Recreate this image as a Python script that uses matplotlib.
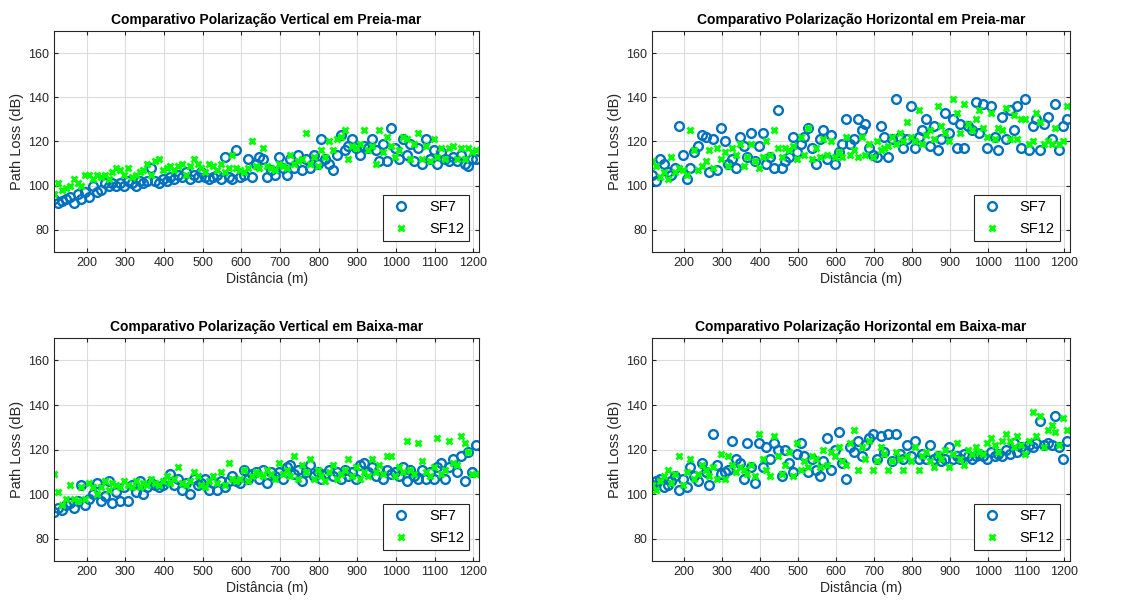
import matplotlib
matplotlib.use("Agg")

import matplotlib.pyplot as plt

plt.rcParams.update({
    "font.family": ["Liberation Sans", "DejaVu Sans"],
    "font.size": 9,
    "axes.linewidth": 0.8,
    "axes.edgecolor": "#262626",
    "xtick.color": "#262626",
    "ytick.color": "#262626",
    "xtick.direction": "in",
    "ytick.direction": "in",
    "xtick.top": True,
    "ytick.right": True,
    "xtick.major.size": 3,
    "ytick.major.size": 3,
})

# ===================== data =====================
distancia = [
    117, 127, 137, 147, 157, 167, 177, 187, 197,
    207, 217, 227, 237, 247, 257, 267, 277, 287, 297,
    307, 317, 327, 337, 347, 357, 367, 377, 387, 397,
    407, 417, 427, 437, 447, 457, 467, 477, 487, 497,
    507, 517, 527, 537, 547, 557, 567, 577, 587, 597,
    607, 617, 627, 637, 647, 657, 667, 677, 687, 697,
    707, 717, 727, 737, 747, 757, 767, 777, 787, 797,
    807, 817, 827, 837, 847, 857, 867, 877, 887, 897,
    907, 917, 927, 937, 947, 957, 967, 977, 987, 997,
    1007, 1017, 1027, 1037, 1047, 1057, 1067, 1077, 1087, 1097,
    1107, 1117, 1127, 1137, 1147, 1157, 1167, 1177, 1187, 1197,
    1207,
]

# Vertical, preia-mar
v_preia_sf7 = [
    94, 92, 93, 94, 95, 92, 96, 94, 97,
    95, 100, 97, 98, 101, 100, 101, 100, 101, 100,
    102, 101, 100, 102, 101, 102, 108, 102, 101, 103,
    102, 104, 103, 105, 104, 106, 103, 105, 104, 106,
    104, 103, 104, 105, 103, 113, 104, 103, 116, 104,
    105, 112, 104, 110, 113, 112, 104, 107, 105, 113,
    108, 105, 112, 108, 114, 107, 112, 108, 114, 110,
    121, 112, 110, 107, 114, 123, 116, 118, 121, 117,
    114, 118, 117, 121, 116, 111, 119, 111, 126, 117,
    112, 121, 114, 119, 111, 117, 110, 121, 112, 116,
    110, 115, 112, 111, 113, 111, 114, 110, 109, 112,
    112,
]
v_preia_sf12 = [
    96, 101, 98, 99, 100, 103, 101, 100, 105,
    105, 103, 105, 104, 105, 103, 106, 108, 107, 105,
    108, 104, 105, 106, 107, 110, 105, 111, 112, 107,
    108, 109, 107, 109, 110, 105, 109, 112, 110, 108,
    106, 110, 109, 107, 110, 106, 108, 114, 108, 107,
    106, 108, 120, 109, 108, 117, 109, 108, 107, 110,
    109, 108, 114, 110, 111, 112, 124, 110, 113, 109,
    116, 113, 120, 116, 121, 122, 125, 112, 118, 117,
    119, 125, 116, 118, 110, 125, 115, 122, 118, 113,
    116, 122, 121, 112, 119, 124, 112, 118, 111, 121,
    113, 117, 112, 117, 118, 112, 117, 112, 117, 115,
    116,
]

# Horizontal, preia-mar
h_preia_sf7 = [
    105, 102, 112, 110, 106, 105, 108, 127, 114,
    103, 108, 115, 118, 123, 122, 106, 121, 107, 126,
    120, 110, 112, 108, 122, 118, 113, 124, 111, 118,
    124, 110, 113, 108, 134, 108, 111, 113, 122, 115,
    119, 122, 126, 117, 110, 121, 125, 112, 123, 110,
    115, 119, 130, 119, 121, 130, 125, 128, 117, 114,
    113, 127, 122, 113, 121, 139, 122, 117, 121, 136,
    117, 122, 125, 130, 118, 127, 116, 121, 133, 124,
    130, 117, 128, 117, 127, 125, 138, 124, 137, 117,
    136, 122, 116, 131, 121, 134, 125, 136, 117, 139,
    116, 127, 130, 116, 128, 131, 121, 137, 116, 127,
    130,
]
h_preia_sf12 = [
    111, 109, 104, 106, 103, 113, 106, 108, 107,
    105, 125, 116, 107, 109, 111, 116, 108, 117, 112,
    115, 109, 117, 114, 119, 109, 113, 119, 111, 108,
    113, 120, 114, 125, 117, 113, 117, 116, 118, 112,
    122, 114, 126, 112, 117, 113, 121, 114, 120, 113,
    115, 113, 122, 114, 116, 113, 122, 114, 119, 113,
    120, 116, 117, 118, 122, 119, 124, 120, 129, 122,
    120, 134, 119, 123, 125, 121, 136, 127, 124, 120,
    139, 133, 124, 137, 128, 125, 130, 134, 126, 122,
    133, 121, 126, 125, 135, 121, 132, 121, 130, 130,
    119, 120, 133, 129, 119, 120, 119, 126, 119, 120,
    136,
]

# Vertical, baixa-mar
v_baixa_sf7 = [
    92, 94, 93, 95, 96, 94, 97, 104, 95,
    98, 100, 105, 97, 99, 106, 96, 101, 97, 103,
    97, 104, 101, 106, 100, 103, 105, 104, 103, 104,
    106, 109, 104, 107, 102, 105, 100, 107, 104, 105,
    107, 102, 105, 102, 106, 103, 106, 108, 106, 105,
    111, 107, 109, 110, 107, 111, 105, 110, 108, 110,
    107, 112, 113, 109, 111, 106, 110, 113, 108, 110,
    107, 109, 111, 108, 110, 107, 111, 108, 110, 107,
    113, 114, 110, 112, 108, 111, 107, 111, 109, 110,
    108, 112, 106, 111, 108, 107, 111, 107, 110, 107,
    112, 114, 107, 112, 116, 110, 117, 106, 119, 110,
    122,
]
v_baixa_sf12 = [
    109, 101, 95, 98, 104, 98, 97, 103, 98,
    105, 103, 100, 103, 106, 102, 105, 104, 103, 106,
    104, 103, 106, 103, 105, 104, 107, 105, 104, 106,
    108, 105, 107, 112, 105, 104, 106, 110, 108, 104,
    103, 106, 108, 105, 110, 104, 114, 107, 106, 107,
    111, 106, 108, 110, 109, 108, 111, 109, 107, 114,
    109, 111, 108, 117, 107, 113, 110, 116, 107, 111,
    108, 106, 110, 113, 107, 109, 111, 116, 108, 112,
    107, 110, 108, 116, 110, 113, 109, 117, 117, 108,
    112, 110, 124, 111, 109, 123, 115, 110, 108, 112,
    125, 109, 111, 124, 114, 113, 126, 123, 119, 109,
    109,
]

# Horizontal, baixa-mar
h_baixa_sf7 = [
    104, 106, 107, 103, 104, 106, 108, 102, 107,
    103, 112, 108, 106, 114, 110, 104, 127, 113, 109,
    110, 111, 124, 116, 114, 107, 123, 112, 105, 123,
    112, 121, 116, 123, 120, 108, 120, 114, 110, 118,
    123, 117, 110, 116, 111, 108, 115, 125, 111, 120,
    128, 114, 107, 121, 119, 124, 117, 122, 125, 127,
    116, 126, 119, 127, 115, 127, 118, 116, 122, 117,
    124, 116, 118, 116, 122, 116, 117, 115, 116, 121,
    116, 117, 116, 118, 117, 116, 117, 118, 117, 116,
    119, 117, 118, 117, 120, 118, 123, 119, 121, 120,
    122, 121, 123, 133, 122, 123, 122, 135, 121, 116,
    124,
]
h_baixa_sf12 = [
    104, 102, 106, 108, 111, 105, 109, 117, 104,
    110, 116, 107, 109, 113, 111, 108, 112, 107, 118,
    107, 117, 113, 110, 112, 111, 109, 113, 108, 127,
    116, 111, 108, 126, 117, 109, 113, 119, 108, 123,
    111, 115, 112, 117, 116, 112, 120, 113, 119, 117,
    121, 115, 113, 123, 129, 111, 121, 116, 124, 111,
    115, 121, 118, 111, 115, 119, 116, 111, 117, 115,
    121, 111, 117, 119, 115, 112, 118, 116, 120, 112,
    118, 123, 116, 113, 120, 118, 121, 119, 118, 123,
    125, 122, 119, 124, 127, 124, 121, 126, 122, 118,
    124, 137, 126, 135, 121, 129, 131, 128, 122, 134,
    129,
]

panels = [
    ("Comparativo Polarização Vertical em Preia-mar", v_preia_sf7, v_preia_sf12),
    ("Comparativo Polarização Horizontal em Preia-mar", h_preia_sf7, h_preia_sf12),
    ("Comparativo Polarização Vertical em Baixa-mar", v_baixa_sf7, v_baixa_sf12),
    ("Comparativo Polarização Horizontal em Baixa-mar", h_baixa_sf7, h_baixa_sf12),
]

# axes boxes in figure fractions [left, bottom, width, height]
boxes = [
    [0.0475, 0.585, 0.374, 0.364],
    [0.5734, 0.585, 0.3676, 0.364],
    [0.0475, 0.0758, 0.374, 0.367],
    [0.5734, 0.0758, 0.3676, 0.367],
]

BLUE = "#0072BD"
GREEN = "#00FF00"

fig = plt.figure(figsize=(11.37, 6.07), dpi=100)

for (title, sf7, sf12), box in zip(panels, boxes):
    ax = fig.add_axes(box)
    ax.plot(distancia, sf7, linestyle="none", marker="o", markersize=6.3,
            markerfacecolor="none", markeredgecolor=BLUE, markeredgewidth=1.7,
            label="SF7")
    ax.plot(distancia, sf12, linestyle="none", marker="x", markersize=4.8,
            color=GREEN, markeredgewidth=2.1, label="SF12")

    ax.set_xlim(116, 1215)
    ax.set_ylim(70, 170)
    ax.set_xticks([200, 300, 400, 500, 600, 700, 800, 900, 1000, 1100, 1200])
    ax.set_yticks([80, 100, 120, 140, 160])
    ax.grid(True, color="#dcdcdc", linewidth=0.8)
    ax.set_axisbelow(True)

    ax.set_title(title, fontsize=10, fontweight="bold", pad=5)
    ax.set_xlabel("Distância (m)", fontsize=10, color="#262626", labelpad=2)
    ax.set_ylabel("Path Loss (dB)", fontsize=10.5, color="#262626", labelpad=3)

    leg = ax.legend(loc="lower right", fontsize=10.5, fancybox=False,
                    framealpha=1, edgecolor="#262626", borderpad=0.35,
                    handletextpad=1.0, handlelength=1.8, borderaxespad=0,
                    bbox_to_anchor=(0.976, 0.05))
    leg.get_frame().set_linewidth(0.8)

plt.savefig("out.png", dpi=100)
plt.close()
